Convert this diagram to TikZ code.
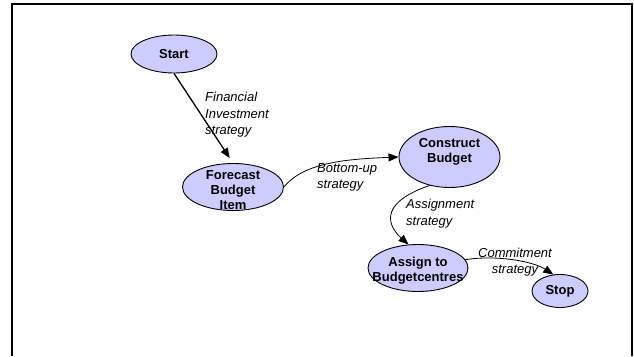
\documentclass[tikz,border=0pt]{standalone}
\usepackage{fontspec}
\setmainfont{Liberation Sans}
\usetikzlibrary{shapes.geometric,arrows.meta}
\definecolor{nodefill}{RGB}{204,204,255}
\begin{document}
\begin{tikzpicture}[x=1pt,y=-1pt,
  state/.style={ellipse,draw=black,line width=0.9pt,fill=nodefill,inner sep=0pt},
  statetext/.style={font=\fontsize{13}{15}\selectfont\bfseries,align=center,inner sep=0pt},
  edgelabel/.style={font=\fontsize{13}{16.5}\selectfont\itshape,align=left,inner sep=0pt},
  arr/.style={line width=0.8pt,-{Triangle[length=10pt,width=8pt]}}]
\useasboundingbox (0,0) rectangle (634,356);
\draw[line width=1.2pt] (12,356) -- (12,4) -- (632,4) -- (632,356);

\node[state,minimum width=86pt,minimum height=38pt] (start) at (174,54) {};
\node[statetext] (starttxt) at (start) {Start};
\node[state,minimum width=101pt,minimum height=47pt] (forecast) at (233,187) {};
\node[statetext] (forecasttxt) at (233,190) {Forecast\\Budget\\Item};
\node[state,minimum width=101pt,minimum height=61pt] (construct) at (449.5,157) {};
\node[statetext] (constructtxt) at (449.5,152) {Construct\\Budget};
\node[state,minimum width=100pt,minimum height=47pt] (assign) at (418,268) {};
\node[statetext] (assigntxt) at (418,270.5) {Assign to\\Budgetcentres};
\node[state,minimum width=56pt,minimum height=33pt] (stop) at (560,291) {};
\node[statetext] (stoptxt) at (stop) {Stop};

\node[edgelabel,anchor=west] (l1) at (205,115) {Financial\\Investment\\strategy};
\node[edgelabel,anchor=west] (l2) at (317,177.5) {Bottom-up\\strategy};
\node[edgelabel,anchor=west] (l3) at (406,213.5) {Assignment\\strategy};
\node[edgelabel,align=center] (l4) at (515,262) {Commitment\\strategy};

\draw[arr,line width=1.3pt,shorten >=6pt] (start.south) -- (forecast.north);
\draw[arr] (forecast.east) .. controls +(20,-25) and +(-50,2) .. (construct.west);
\draw[arr] (construct.235) .. controls +(-55,19) and +(-18,-16) .. (assign.112);
\draw[arr] (assign.10) .. controls +(32,-5) and +(-20,-13) .. (stop.112);
\end{tikzpicture}
\end{document}
